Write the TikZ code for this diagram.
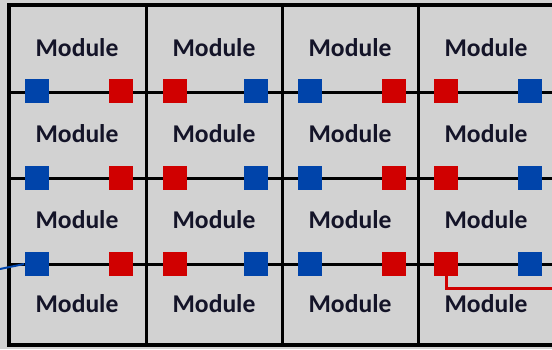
\documentclass[tikz,border=0pt]{standalone}
\usepackage{fontspec}
\setmainfont{Carlito}
\definecolor{portblue}{RGB}{0,68,170}
\definecolor{portred}{RGB}{208,0,0}
\definecolor{panel}{RGB}{210,210,210}
\definecolor{labelink}{RGB}{20,20,40}
\tikzstyle{module}=[font=\bfseries\fontsize{12.8}{14}\selectfont,text=labelink,inner sep=0pt]
\tikzstyle{bport}=[shape=rectangle,fill=portblue,minimum size=12pt,inner sep=0pt]
\tikzstyle{rport}=[shape=rectangle,fill=portred,minimum size=12pt,inner sep=0pt]
\tikzstyle{wire}=[line width=1.5pt]

\begin{document}
\begin{tikzpicture}[x=0.5pt,y=-0.5pt]
\useasboundingbox (0,0) rectangle (552,349);
\fill[panel] (0,0) rectangle (552,349);
% grid
\draw[wire,line width=2pt] (552,5) -- (8.5,5) -- (8.5,345) -- (552,345);
\foreach \x in {146,282,418} \draw[wire] (\x,5) -- (\x,345);
\foreach \y in {92,178,264} \draw[wire] (8.5,\y) -- (552,\y);
% modules
\foreach \c/\x in {1/77,2/214,3/350,4/486}
  \foreach \r/\y in {1/48,2/134,3/220,4/304}
    \node[module] (m\r\c) at (\x,\y) {Module};
% ports
\foreach \r/\y in {1/91,2/178,3/264}
  \foreach \k/\x/\s in {1/36.5/bport,2/120.5/rport,3/175/rport,4/256/bport,
                        5/310/bport,6/393.5/rport,7/446/rport,8/529.5/bport}
    \node[\s] (p\r\k) at (\x,\y) {};
% feed in and out
\coordinate (in) at (0,269);
\coordinate (out) at (552,288);
\draw[portblue,line width=1pt] (in) -- (p31.west);
\draw[portred,line width=1.5pt] (p37.south) |- (out);
\end{tikzpicture}
\end{document}
